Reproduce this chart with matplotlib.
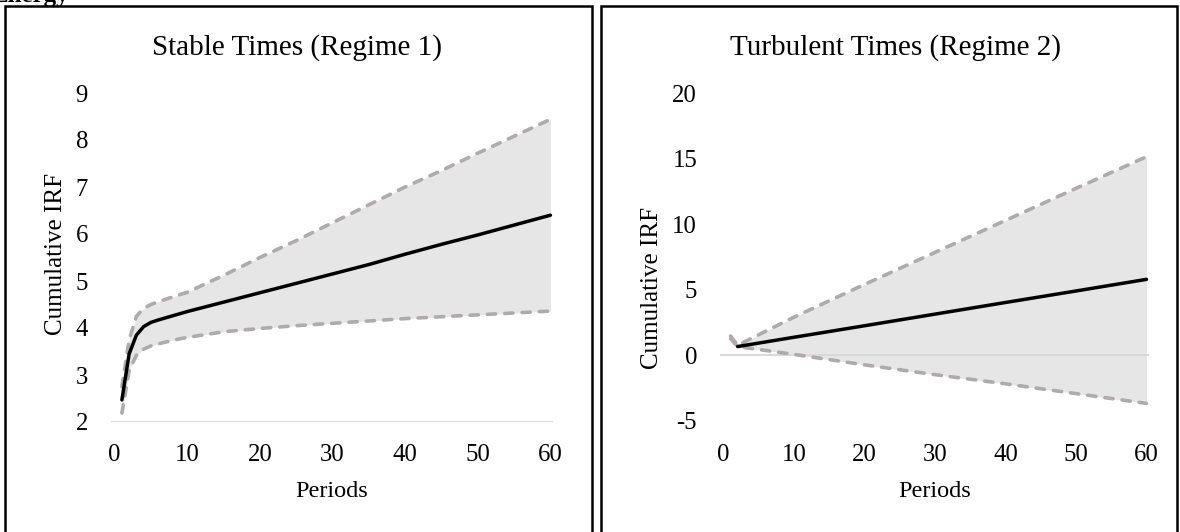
import numpy as np
import matplotlib
matplotlib.use("Agg")
import matplotlib.pyplot as plt
from matplotlib.patches import Rectangle

# ---- data -------------------------------------------------------------
# Regime 1: stable times
periods_stable = [1, 2, 3, 4, 5, 6, 8, 10, 15, 20, 25, 30, 35, 40, 45, 50, 55, 60]
irf_stable = [2.47, 3.45, 3.85, 4.03, 4.12, 4.17, 4.26, 4.35, 4.55, 4.75,
              4.95, 5.15, 5.35, 5.57, 5.78, 5.98, 6.19, 6.40]
upper_stable = [2.75, 3.75, 4.25, 4.42, 4.50, 4.56, 4.66, 4.76, 5.12, 5.50,
                5.86, 6.24, 6.62, 7.00, 7.35, 7.72, 8.08, 8.44]
lower_stable = [2.19, 3.10, 3.42, 3.55, 3.62, 3.66, 3.74, 3.80, 3.92, 3.99,
                4.05, 4.10, 4.15, 4.20, 4.24, 4.28, 4.32, 4.36]

# Regime 2: turbulent times (point estimate starts at period 2)
periods_turb = [1, 2, 10, 20, 30, 40, 50, 60]
irf_turb = [np.nan, 0.65, 1.36, 2.24, 3.13, 4.02, 4.90, 5.79]
upper_turb = [1.45, 0.75, 2.90, 5.40, 7.85, 10.30, 12.75, 15.17]
lower_turb = [1.25, 0.65, 0.05, -0.75, -1.50, -2.20, -2.95, -3.70]

x_ticks = [0, 10, 20, 30, 40, 50, 60]
y_ticks_stable = [2, 3, 4, 5, 6, 7, 8, 9]
y_ticks_turb = [-5, 0, 5, 10, 15, 20]

titles = ["Stable Times (Regime 1)", "Turbulent Times (Regime 2)"]
x_label = "Periods"
y_label = "Cumulative IRF"
header = "Energy"

# ---- styling ----------------------------------------------------------
W, H = 1180, 532
DPI = 100
SERIF = ["Liberation Serif", "DejaVu Serif"]
FILL = "#E7E6E6"
BAND = "#AFABAB"
BASE = "#D9D9D9"

plt.rcParams["font.family"] = SERIF

fig = plt.figure(figsize=(W / DPI, H / DPI), dpi=DPI)


def rect(x0, x1, y_top, y_bot):
    """Figure-fraction rectangle from pixel bounds (origin top-left)."""
    return [x0 / W, 1 - y_bot / H, (x1 - x0) / W, (y_bot - y_top) / H]


def fx(px):
    return px / W


def fy(py):
    return 1 - py / H


def draw_panel(ax, periods, irf, upper, lower, ylim, yticks, base_y):
    ax.fill_between(periods, lower, upper, color=FILL, lw=0, zorder=1)
    ax.axhline(base_y, color=BASE, lw=1.4, zorder=2)
    for band in (upper, lower):
        ax.plot(periods, band, color=BAND, lw=2.6, ls=(0, (2.3, 2.5)),
                dash_capstyle="round", solid_capstyle="round", zorder=3)
    ax.plot(periods, irf, color="black", lw=2.5, solid_capstyle="round",
            zorder=4)
    ax.set_xlim(-0.5, 60.4)
    ax.set_ylim(*ylim)
    ax.set_xticks(x_ticks)
    ax.set_yticks(yticks)
    ax.set_yticklabels([str(t) for t in yticks])
    for s in ax.spines.values():
        s.set_visible(False)
    ax.tick_params(axis="both", length=0, labelsize=17.8, colors="black")
    ax.tick_params(axis="y", pad=16.5)
    ax.patch.set_alpha(0)


ax1 = fig.add_axes(rect(111, 553.3, 93, 422))
draw_panel(ax1, periods_stable, irf_stable, upper_stable, lower_stable,
           (2, 9), y_ticks_stable, 2)
ax1.tick_params(axis="x", pad=16.0)

ax2 = fig.add_axes(rect(720, 1149.3, 93.6, 420.4))
draw_panel(ax2, periods_turb, irf_turb, upper_turb, lower_turb,
           (-5, 20), y_ticks_turb, 0)
ax2.tick_params(axis="x", pad=17.2)

# titles and axis labels
fig.text(fx(297.5), fy(55), titles[0], fontsize=21, ha="center", va="baseline")
fig.text(fx(895), fy(55), titles[1], fontsize=21, ha="center", va="baseline")
fig.text(fx(332), fy(497), x_label, fontsize=17.5, ha="center", va="baseline")
fig.text(fx(934.6), fy(497), x_label, fontsize=17.5, ha="center", va="baseline")
fig.text(fx(56), fy(254), y_label, fontsize=18, rotation=90,
         ha="center", va="center")
fig.text(fx(652), fy(288), y_label, fontsize=18, rotation=90,
         ha="center", va="center")

# heading of the figure, cut by the top edge
fig.text(fx(-8), fy(2), header, fontsize=18, fontweight="bold",
         ha="left", va="baseline")

# frames around the two panels
frame_kw = dict(fill=False, edgecolor="black", lw=1.8,
                transform=fig.transFigure, clip_on=False)
fig.add_artist(Rectangle((fx(5.3), fy(560)), fx(591.5 - 5.3), fy(6) - fy(560),
                         **frame_kw))
fig.add_artist(Rectangle((fx(601), fy(560)), fx(1177 - 601), fy(6) - fy(560),
                         **frame_kw))

fig.savefig("out.png", dpi=DPI)
